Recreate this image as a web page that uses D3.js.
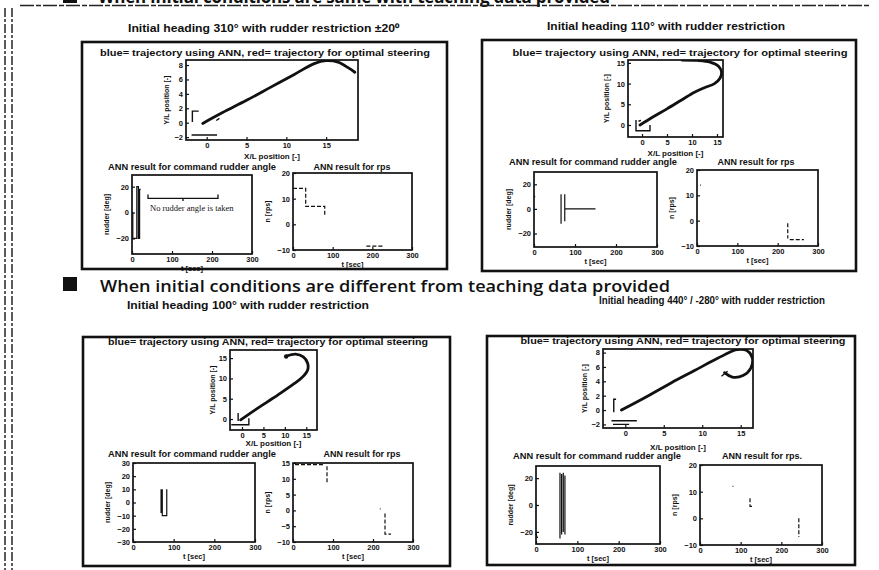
<!DOCTYPE html>
<html>
<head>
<meta charset="utf-8">
<script src="https://cdn.jsdelivr.net/npm/d3@7/dist/d3.min.js"></script>
<style>
  body { margin: 0; background: #fff; }
  svg { display: block; }
  text { font-family: "Liberation Sans", Arial, sans-serif; font-weight: bold; fill: #111; }
</style>
</head>
<body>
<svg id="chart" width="879" height="570"></svg>
<script>
// ---- data ----
const headerTop = "When initial conditions are same with teaching data provided";
const headerMid = "When initial conditions are different from teaching data provided";
const legendText = "blue= trajectory using ANN, red= trajectory for optimal steering";
const titles = [
  "Initial heading 310\u00b0 with rudder restriction \u00b120\u2070",
  "Initial heading 110\u00b0 with rudder restriction",
  "Initial heading 100\u00b0 with rudder restriction",
  "Initial heading 440\u00b0 / -280\u00b0 with rudder restriction"
];

const trajTicksX = [0, 5, 10, 15];
const trajTicksYSmall = [-2, 0, 2, 4, 6, 8];
const trajTicksYBig = [0, 5, 10, 15];
const timeTicks = [0, 100, 200, 300];
const rudderTicks = [-20, 0, 20];
const rudderTicksFine = [-30, -20, -10, 0, 10, 20, 30];
const rpsTicks = [-10, 0, 10, 20];
const rpsTicksFine = [-10, -5, 0, 5, 10, 15];

// trajectories [x/L, y/L]; null = gap
const trajA = [[-0.5,-0.1],[2,1.4],[5,3.1],[8,4.9],[11,6.7],[13.5,8.2],[15,8.6],[16.5,8.4],[17.8,7.6],[18.6,7.0]];
const markA = [[-1.0,1.6],[-1.8,1.6],[-1.8,0.1], null, [-1.9,-1.7],[1.3,-1.7], null, [1.2,0.3],[1.6,0.6]];
const trajB = [[-0.4,0],[2,1.8],[5,3.9],[8,6.1],[10.5,7.9],[12.5,9.0],[14.5,10.0],[15.6,11.3],[15.9,12.8],[15.3,14.2],[13.6,15.2],[11,15.6],[8,15.7]];
const markB = [[-1.2,1.2],[-1.2,-1.4],[1.6,-1.4],[1.6,0], null, [-0.7,0.9],[-0.2,1.1]];
const trajC = [[-0.3,-0.2],[3,2.2],[6,4.3],[9,6.4],[12,8.6],[14,10.2],[15.3,12],[15.3,13.8],[14.3,15.3],[12.5,16],[10.4,15.5]];
const markC = [[-0.9,-0.5],[-0.9,1.5], null, [-2.5,-1.4],[1.6,-1.4],[1.6,0.2]];
const trajD = [[-0.5,0],[3,2],[6,3.8],[9,5.5],[12,7.2],[14.5,8.4],[15.8,8.3],[16.5,7.3],[16.3,5.8],[15.3,4.8],[13.9,4.6],[12.9,5.2]];
const markD = [[-1.2,1.5],[-1.5,1.5],[-1.5,-0.3], null, [-1.8,-1.5],[1.5,-1.5], null, [-1.6,-2.0],[0.5,-2.0], null, [12.5,4.7],[13.3,5.4]];

// rudder command [t sec, deg]
const rudderA = [[0,0],[2,0],[2,-20],[12,-20],[12,20],[16,20],[16,-20],[19,-20],[19,18],[22,18]];
const rudderB = [[0,10],[3,10], null, [66,-12],[66,12], null, [75,-10],[75,12], null, [75,0],[150,0]];
const rudderC = [[0,0],[2,0], null, [69,10],[69,-8], null, [72,10],[72,-10],[83,-10],[83,10]];
const rudderD = [[0,0],[2,0], null, [0,-20],[2,-24],[5,-24], null, [58,24],[58,-25], null, [62,23],[62,-22], null, [66,24],[66,-20], null, [70,22],[70,-22]];

// rps [t sec, n]
const rpsA = [[0,14],[32,14],[32,7],[80,7],[80,3], null, [185,-8.5],[230,-8.5]];
const rpsB = [[8,14],[10,14], null, [225,-1],[225,-7], null, [230,-7.5],[265,-7.5]];
const rpsC = [[5,14.5],[80,14.5], null, [85,14],[85,8.5], null, [217,0.5],[219,0.5], null, [230,-1],[230,-7.5],[245,-7.5]];
const rpsD = [[80,12],[82,12], null, [123,7.5],[123,4.5],[130,4.5], null, [243,0],[243,-7]];

const noRudderSpan = [40, 215];   // annotation bracket in panel A
const noRudderLevel = 11;

// ---- layout ----
const panels = [
  { box: [82, 42, 447, 269], title: titles[0], tpos: [264, 28], tw: 272, lpos: [265, 53], lw: 330,
    traj: { f: [186, 358, 60, 140], dx: [-2.6, 19], dy: [-2.4, 8.7], yt: trajTicksYSmall, data: trajA, mark: markA, xl: 156, yl: 167 },
    rud:  { f: [132, 252, 175, 254], dy: [-32, 29], yt: rudderTicks, data: rudderA, tpos: [192, 167] },
    rps:  { f: [293, 412, 173, 250], dy: [-10, 20], yt: rpsTicks, data: rpsA, tpos: [352, 167] } },
  { box: [482, 40, 856, 271], title: titles[1], tpos: [666, 26], tw: 238, lpos: [680, 53], lw: 335,
    traj: { f: [628, 723, 60, 137], dx: [-2.8, 16.2], dy: [-2.9, 15.7], yt: trajTicksYBig, data: trajB, mark: markB, xl: 153, yl: 607 },
    rud:  { f: [534, 657, 172, 247], dy: [-31, 30], yt: rudderTicks, data: rudderB, tpos: [593, 162] },
    rps:  { f: [697, 818, 170, 246], dy: [-10, 20], yt: rpsTicks, data: rpsB, tpos: [756, 162] } },
  { box: [83, 337, 450, 566], title: titles[2], tpos: [248, 305], tw: 242, lpos: [268, 342], lw: 320,
    traj: { f: [230, 317, 350, 430], dx: [-2.8, 17.5], dy: [-2.7, 17], yt: trajTicksYBig, data: trajC, mark: markC, xl: 443, yl: 213, dot: [10.3, 15.4] },
    rud:  { f: [133, 255, 463, 542], dy: [-30, 30], yt: rudderTicksFine, data: rudderC, tpos: [192, 454] },
    rps:  { f: [293, 413, 463, 542], dy: [-10, 15], yt: rpsTicksFine, data: rpsC, tpos: [362, 454] } },
  { box: [487, 336, 855, 565], title: titles[3], tpos: [712, 300], tw: 226, lpos: [683, 341], lw: 325,
    traj: { f: [603, 753, 349, 428], dx: [-2.9, 16.6], dy: [-2.5, 8.5], yt: trajTicksYSmall, data: trajD, mark: markD, xl: 447, yl: 585 },
    rud:  { f: [536, 660, 466, 544], dy: [-29, 29], yt: rudderTicks, data: rudderD, tpos: [597, 456] },
    rps:  { f: [700, 822, 465, 545], dy: [-10, 20], yt: rpsTicks, data: rpsD, tpos: [762, 456] } }
];

const svg = d3.select("#chart");

// scan edge on the left
[5, 12].forEach(x => {
  svg.append("line").attr("x1", x).attr("x2", x).attr("y1", 8).attr("y2", 570)
    .attr("stroke", "#333").attr("stroke-width", 1.6).attr("stroke-dasharray", "9,2,3,2");
});

// top header, mostly cut off by the page edge
svg.append("rect").attr("x", 63).attr("y", -8).attr("width", 14).attr("height", 11).attr("fill", "#111");
svg.append("text").attr("x", 98).attr("y", 3).attr("font-size", 17)
  .style("font-family", "'Open Sans', sans-serif").attr("textLength", 512)
  .text(headerTop);
svg.append("line").attr("x1", 20).attr("x2", 870).attr("y1", 5.5).attr("y2", 5.5)
  .attr("stroke", "#222").attr("stroke-width", 1.5).attr("stroke-dasharray", "14,2,5,2");

// middle header
svg.append("rect").attr("x", 63).attr("y", 277).attr("width", 14).attr("height", 14).attr("fill", "#111");
svg.append("text").attr("x", 100).attr("y", 292).attr("font-size", 17)
  .style("font-family", "'Open Sans', sans-serif").style("font-weight", 600)
  .attr("textLength", 570).attr("lengthAdjust", "spacingAndGlyphs")
  .text(headerMid);

const gapLine = d3.line().defined(d => d !== null);

function frame(g, f) {
  g.append("rect").attr("x", f[0]).attr("y", f[2]).attr("width", f[1] - f[0]).attr("height", f[3] - f[2])
    .attr("fill", "none").attr("stroke", "#111").attr("stroke-width", 1.7);
}

function axes(g, x, y, f, xt, yt) {
  const ax = g.append("g").attr("transform", `translate(0,${f[3]})`)
    .call(d3.axisBottom(x).tickValues(xt).tickSizeInner(-3).tickSizeOuter(0).tickPadding(3));
  const ay = g.append("g").attr("transform", `translate(${f[0]},0)`)
    .call(d3.axisLeft(y).tickValues(yt).tickSizeInner(-3).tickSizeOuter(0).tickPadding(3));
  [ax, ay].forEach(a => {
    a.select(".domain").remove();
    a.selectAll("line").attr("stroke", "#111").attr("stroke-width", 1.2);
    a.selectAll("text").attr("font-size", 7.5).style("font-family", "'Liberation Sans', Arial, sans-serif").attr("fill", "#111");
  });
}

function seriesPlot(g, s, dx, xt, ylab, dashed) {
  const f = s.f;
  const x = d3.scaleLinear().domain(dx).range([f[0], f[1]]);
  const y = d3.scaleLinear().domain(s.dy).range([f[3], f[2]]);
  axes(g, x, y, f, xt, s.yt);
  gapLine.x(d => x(d[0])).y(d => y(d[1]));
  g.append("path").attr("d", gapLine(s.data)).attr("fill", "none")
    .attr("stroke", "#111").attr("stroke-width", 1.2)
    .attr("stroke-dasharray", dashed ? "4,2" : null);
  frame(g, f);
  g.append("text").attr("x", (f[0] + f[1]) / 2).attr("y", f[3] + 14).attr("dy", "0.35em")
    .attr("text-anchor", "middle").attr("font-size", 7.5).text("t [sec]");
  g.append("text").attr("transform", `translate(${f[0] - 25},${(f[2] + f[3]) / 2}) rotate(-90)`)
    .attr("dy", "0.35em").attr("text-anchor", "middle").attr("font-size", 7).text(ylab);
  return { x, y };
}

panels.forEach((p, i) => {
  const g = svg.append("g");
  const b = p.box;
  g.append("rect").attr("x", b[0]).attr("y", b[1]).attr("width", b[2] - b[0]).attr("height", b[3] - b[1])
    .attr("fill", "none").attr("stroke", "#111").attr("stroke-width", 2.6);

  g.append("text").attr("x", p.tpos[0]).attr("y", p.tpos[1]).attr("dy", "0.35em")
    .attr("text-anchor", "middle").attr("font-size", 10)
    .attr("textLength", p.tw).attr("lengthAdjust", "spacingAndGlyphs").text(p.title);
  g.append("text").attr("x", p.lpos[0]).attr("y", p.lpos[1]).attr("dy", "0.35em")
    .attr("text-anchor", "middle").attr("font-size", 9.5)
    .attr("textLength", p.lw).attr("lengthAdjust", "spacingAndGlyphs").text(legendText);

  // trajectory
  const t = p.traj, f = t.f;
  const x = d3.scaleLinear().domain(t.dx).range([f[0], f[1]]);
  const y = d3.scaleLinear().domain(t.dy).range([f[3], f[2]]);
  const clipId = "clip" + i;
  g.append("clipPath").attr("id", clipId).append("rect")
    .attr("x", f[0]).attr("y", f[2]).attr("width", f[1] - f[0]).attr("height", f[3] - f[2]);
  axes(g, x, y, f, trajTicksX, t.yt);
  gapLine.x(d => x(d[0])).y(d => y(d[1]));
  g.append("path").attr("d", d3.line().x(d => x(d[0])).y(d => y(d[1])).curve(d3.curveCatmullRom)(t.data))
    .attr("clip-path", `url(#${clipId})`)
    .attr("fill", "none").attr("stroke", "#111").attr("stroke-width", 2.8).attr("stroke-linecap", "round");
  g.append("path").attr("d", gapLine(t.mark)).attr("fill", "none")
    .attr("stroke", "#111").attr("stroke-width", 1.4);
  if (t.dot) {
    g.append("circle").attr("cx", x(t.dot[0])).attr("cy", y(t.dot[1])).attr("r", 2.2).attr("fill", "#111");
  }
  frame(g, f);
  g.append("text").attr("x", (f[0] + f[1]) / 2).attr("y", t.xl).attr("dy", "0.35em")
    .attr("text-anchor", "middle").attr("font-size", 8).text("X/L position [-]");
  g.append("text").attr("transform", `translate(${t.yl},${(f[2] + f[3]) / 2}) rotate(-90)`)
    .attr("dy", "0.35em").attr("text-anchor", "middle").attr("font-size", 7).text("Y/L position [-]");

  // rudder and rps
  const r = seriesPlot(g, p.rud, [0, 300], timeTicks, "rudder [deg]", false);
  g.append("text").attr("x", p.rud.tpos[0]).attr("y", p.rud.tpos[1]).attr("dy", "0.35em")
    .attr("text-anchor", "middle").attr("font-size", 8.5)
    .attr("textLength", 168).attr("lengthAdjust", "spacingAndGlyphs")
    .text("ANN result for command rudder angle");
  seriesPlot(g, p.rps, [0, 300], timeTicks, "n [rps]", true);
  g.append("text").attr("x", p.rps.tpos[0]).attr("y", p.rps.tpos[1]).attr("dy", "0.35em")
    .attr("text-anchor", "middle").attr("font-size", 8.5)
    .attr("textLength", i === 3 ? 80 : 77).attr("lengthAdjust", "spacingAndGlyphs")
    .text(i === 3 ? "ANN result for rps." : "ANN result for rps");

  if (i === 0) {
    const yb = r.y(noRudderLevel), yt = r.y(noRudderLevel + 3), ym = r.y(noRudderLevel - 2);
    const x0 = r.x(noRudderSpan[0]), x1 = r.x(noRudderSpan[1]), xm = (x0 + x1) / 2;
    g.append("path").attr("d", `M${x0},${yt}L${x0},${yb}L${x1},${yb}L${x1},${yt}M${xm},${yb}L${xm},${ym}`)
      .attr("fill", "none").attr("stroke", "#111").attr("stroke-width", 1.3);
    g.append("text").attr("x", x0 + 2).attr("y", r.y(1)).attr("font-size", 8.5)
      .style("font-family", "'Liberation Serif', serif").style("font-weight", "normal")
      .text("No rudder angle is taken");
  }
});
</script>
</body>
</html>
